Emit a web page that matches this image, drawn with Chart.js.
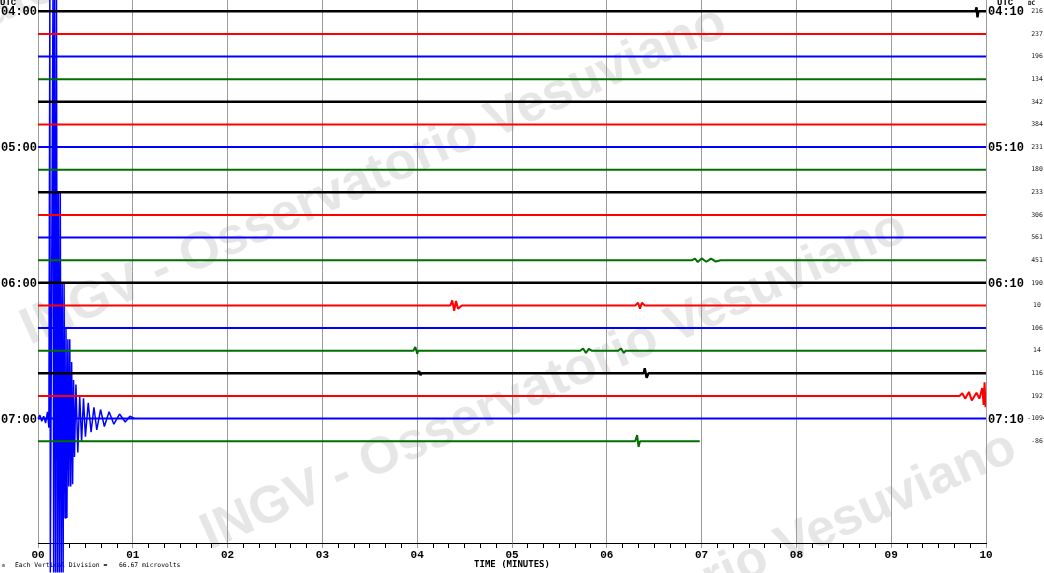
<!DOCTYPE html>
<html>
<head>
<meta charset="utf-8">
<title>Helicorder</title>
<script src="https://cdn.jsdelivr.net/npm/chart.js@4.4.0/dist/chart.umd.min.js"></script>
<style>
    html, body { margin: 0; padding: 0; background: #fff; }
    #wrap { width: 1044px; height: 573px; }
</style>
</head>
<body>
<div id="wrap"><canvas id="heli"></canvas></div>
<script>
// Helicorder: 20 traces of 10 minutes each, rows from 04:00 to 07:10 UTC

const minuteLabels = ['00', '01', '02', '03', '04', '05', '06', '07', '08', '09', '10'];
const leftHourLabels = ['04:00', '05:00', '06:00', '07:00'];
const rightHourLabels = ['04:10', '05:10', '06:10', '07:10'];
const labelledRows = [0, 6, 12, 18];
const dcValues = [216, 237, 196, 134, 342, 384, 231, 180, 233, 306, 561, 451, 190, 10, 106, 14, 116, 192, -1094, -86];
const traceColors = ['#000000', '#ff0000', '#0000ff', '#006e00'];
// minute where each trace stops (last one is still recording)
const rowEnd = [10, 10, 10, 10, 10, 10, 10, 10, 10, 10, 10, 10, 10, 10, 10, 10, 10, 10, 10, 6.98];

// events: [minute, deflection in vertical divisions]
const eventsRow0 = [[9.89, 0], [9.90, 0.18], [9.91, -0.27], [9.92, 0]];
const eventsRow11 = [[6.90, 0], [6.93, 0.07], [6.96, -0.08], [7.00, 0.08], [7.05, -0.07], [7.10, 0.07], [7.15, -0.06], [7.20, 0]];
const eventsRow13 = [[4.35, 0], [4.37, 0.22], [4.39, -0.24], [4.41, 0.2], [4.43, -0.15], [4.47, 0],
                     [6.30, 0], [6.33, 0.12], [6.35, -0.14], [6.37, 0.12], [6.40, 0]];
const eventsRow15 = [[3.96, 0], [3.98, 0.16], [4.00, -0.14], [4.01, 0],
                     [5.72, 0], [5.75, 0.1], [5.78, -0.1], [5.81, 0.08], [5.84, 0],
                     [6.12, 0], [6.15, 0.1], [6.18, -0.1], [6.20, 0]];
const eventsRow16 = [[4.01, 0], [4.02, 0.1], [4.035, -0.08], [4.045, 0], [6.39, 0], [6.40, 0.22], [6.42, -0.2], [6.44, 0]];
const eventsRow17 = [[9.72, 0], [9.75, 0.12], [9.78, -0.12], [9.82, 0.18], [9.85, -0.2], [9.90, 0.14], [9.93, -0.12],
                     [9.96, 0.35], [9.975, -0.4], [9.985, 0.6], [9.995, -0.5], [10, 0]];
const eventsRow19 = [[6.30, 0], [6.32, 0.27], [6.335, -0.25], [6.35, 0]];

// the earthquake on the 07:00 trace, wraps over the whole drum
const quakeTrace = [
    [0.00, 0], [0.02, 0.15], [0.04, -0.12], [0.06, 0.1], [0.08, -0.2], [0.10, 0.3], [0.115, -0.4],
    [0.125, 18.6], [0.13, -6.8], [0.158, 18.6], [0.165, -6.8], [0.175, 18.6], [0.185, -6.8], [0.195, 18.6], [0.205, -6.8],
    [0.215, 10.0], [0.225, -6.8], [0.235, 10.0], [0.245, -6.8], [0.255, 6.0], [0.265, -6.8], [0.275, 6.0], [0.285, -4.4],
    [0.295, 4.0], [0.305, -4.4], [0.315, 3.5], [0.325, -3.0], [0.335, 3.5], [0.345, -3.0], [0.355, 2.5], [0.365, -2.9],
    [0.375, 1.7], [0.385, -1.7], [0.40, 1.5], [0.42, -1.5], [0.44, 1.0], [0.46, -1.0], [0.48, 0.9], [0.50, -0.8],
    [0.53, 0.7], [0.56, -0.6], [0.59, 0.5], [0.62, -0.5], [0.66, 0.4], [0.70, -0.35], [0.75, 0.3], [0.80, -0.25],
    [0.86, 0.2], [0.92, -0.15], [0.97, 0.1], [1.02, 0]
];

const rowEvents = {0: eventsRow0, 11: eventsRow11, 13: eventsRow13, 15: eventsRow15, 16: eventsRow16, 17: eventsRow17, 19: eventsRow19};

// tick every 10 seconds
const tickValues = [];
for (let i = 0; i <= 60; i++) tickValues.push(i / 6);

const watermarkText = 'INGV - Osservatorio Vesuviano';
const watermarkLines = [[-330, 170], [30, 345], [210, 550], [320, 770]];

function buildDatasets() {
    const sets = dcValues.map((dc, i) => {
        const pts = [[0, 0]].concat(rowEvents[i] || [], [[rowEnd[i], 0]]);
        return {
            data: pts.map(p => ({x: p[0], y: -i + p[1]})),
            borderColor: traceColors[i % 4],
            borderWidth: i % 4 === 0 ? 2.4 : 2,
            borderJoinStyle: 'bevel',
            pointRadius: 0
        };
    });
    sets.push({
        data: quakeTrace.map(p => ({x: p[0], y: -18 + p[1]})),
        borderColor: '#0000ff',
        borderWidth: 1.5,
        borderJoinStyle: 'bevel',
        pointRadius: 0,
        clip: false
    });
    return sets;
}

const helicorderText = {
    id: 'helicorderText',
    beforeDraw(chart) {
        const ctx = chart.ctx;
        ctx.save();
        ctx.fillStyle = 'rgba(205, 205, 205, 0.5)';
        ctx.font = 'bold 52px "Liberation Sans", Arial, sans-serif';
        ctx.textBaseline = 'alphabetic';
        watermarkLines.forEach(([x, y]) => {
            ctx.save();
            ctx.translate(x, y);
            ctx.rotate(-24 * Math.PI / 180);
            ctx.fillText(watermarkText, 0, 0);
            ctx.restore();
        });
        ctx.restore();
    },
    beforeDatasetsDraw(chart) {
        const ctx = chart.ctx;
        const yScale = chart.scales.y;
        const area = chart.chartArea;
        ctx.save();
        ctx.fillStyle = '#000';
        ctx.textBaseline = 'middle';

        // hour labels both sides
        ctx.font = 'bold 12px "Liberation Mono", monospace';
        labelledRows.forEach((row, k) => {
            const y = yScale.getPixelForValue(-row);
            ctx.textAlign = 'right';
            ctx.fillText(leftHourLabels[k], area.left - 1, y + 1);
            ctx.textAlign = 'left';
            ctx.fillText(rightHourLabels[k], area.right + 2, y + 1);
        });

        ctx.font = 'bold 9px "Liberation Mono", monospace';
        ctx.textAlign = 'left';
        ctx.fillText('UTC', 0, 3);
        ctx.fillText('UTC', 997, 3);
        ctx.font = 'bold 6px "DejaVu Sans Mono", monospace';
        ctx.fillText('DC', 1028, 3);

        // DC offsets per trace
        ctx.font = '6.5px "DejaVu Sans Mono", monospace';
        ctx.fillStyle = '#222';
        ctx.textAlign = 'center';
        dcValues.forEach((v, i) => {
            ctx.fillText(String(v), 1037, yScale.getPixelForValue(-i));
        });

        // footer
        ctx.fillStyle = '#000';
        ctx.textAlign = 'left';
        ctx.font = '5px "DejaVu Sans Mono", monospace';
        ctx.fillText('m', 2, 566);
        ctx.font = '6.4px "DejaVu Sans Mono", monospace';
        ctx.fillText('Each Vertical Division =   66.67 microvolts', 15, 565);
        ctx.restore();
    }
};

document.addEventListener('DOMContentLoaded', function() {
    const ctx = document.getElementById('heli');

    new Chart(ctx, {
        type: 'line',
        data: { datasets: buildDatasets() },
        options: {
            responsive: true,
            maintainAspectRatio: false,
            devicePixelRatio: 1,
            animation: false,
            events: [],
            layout: { padding: { left: 38, right: 58, top: 0, bottom: 0 } },
            plugins: {
                legend: { display: false },
                tooltip: { enabled: false }
            },
            scales: {
                x: {
                    type: 'linear',
                    min: 0,
                    max: 10,
                    afterBuildTicks: axis => { axis.ticks = tickValues.map(v => ({value: v})); },
                    afterFit: axis => { axis.height = 30; },
                    grid: {
                        color: c => (Math.round(c.tick.value * 6) % 6 === 0 ? '#9c9c9c' : 'rgba(0,0,0,0)'),
                        tickColor: c => (Math.round(c.tick.value * 6) % 6 === 0 ? '#9c9c9c' : '#000'),
                        tickLength: 5,
                        lineWidth: 1
                    },
                    border: { display: true, color: '#000', width: 1 },
                    ticks: {
                        autoSkip: false,
                        maxRotation: 0,
                        minRotation: 0,
                        padding: 1,
                        color: '#000',
                        font: { family: '"Liberation Mono", monospace', size: 11, weight: 'bold' },
                        callback: value => {
                            const k = Math.round(value * 6);
                            return k % 6 === 0 ? minuteLabels[k / 6] : '';
                        }
                    },
                    title: {
                        display: true,
                        text: 'TIME (MINUTES)',
                        color: '#000',
                        font: { family: '"DejaVu Sans Mono", monospace', size: 9, weight: 'bold' },
                        padding: { top: 0, bottom: 3 }
                    }
                },
                y: {
                    display: false,
                    min: -23.5,
                    max: 0.5
                }
            }
        },
        plugins: [helicorderText]
    });
});
</script>
</body>
</html>
